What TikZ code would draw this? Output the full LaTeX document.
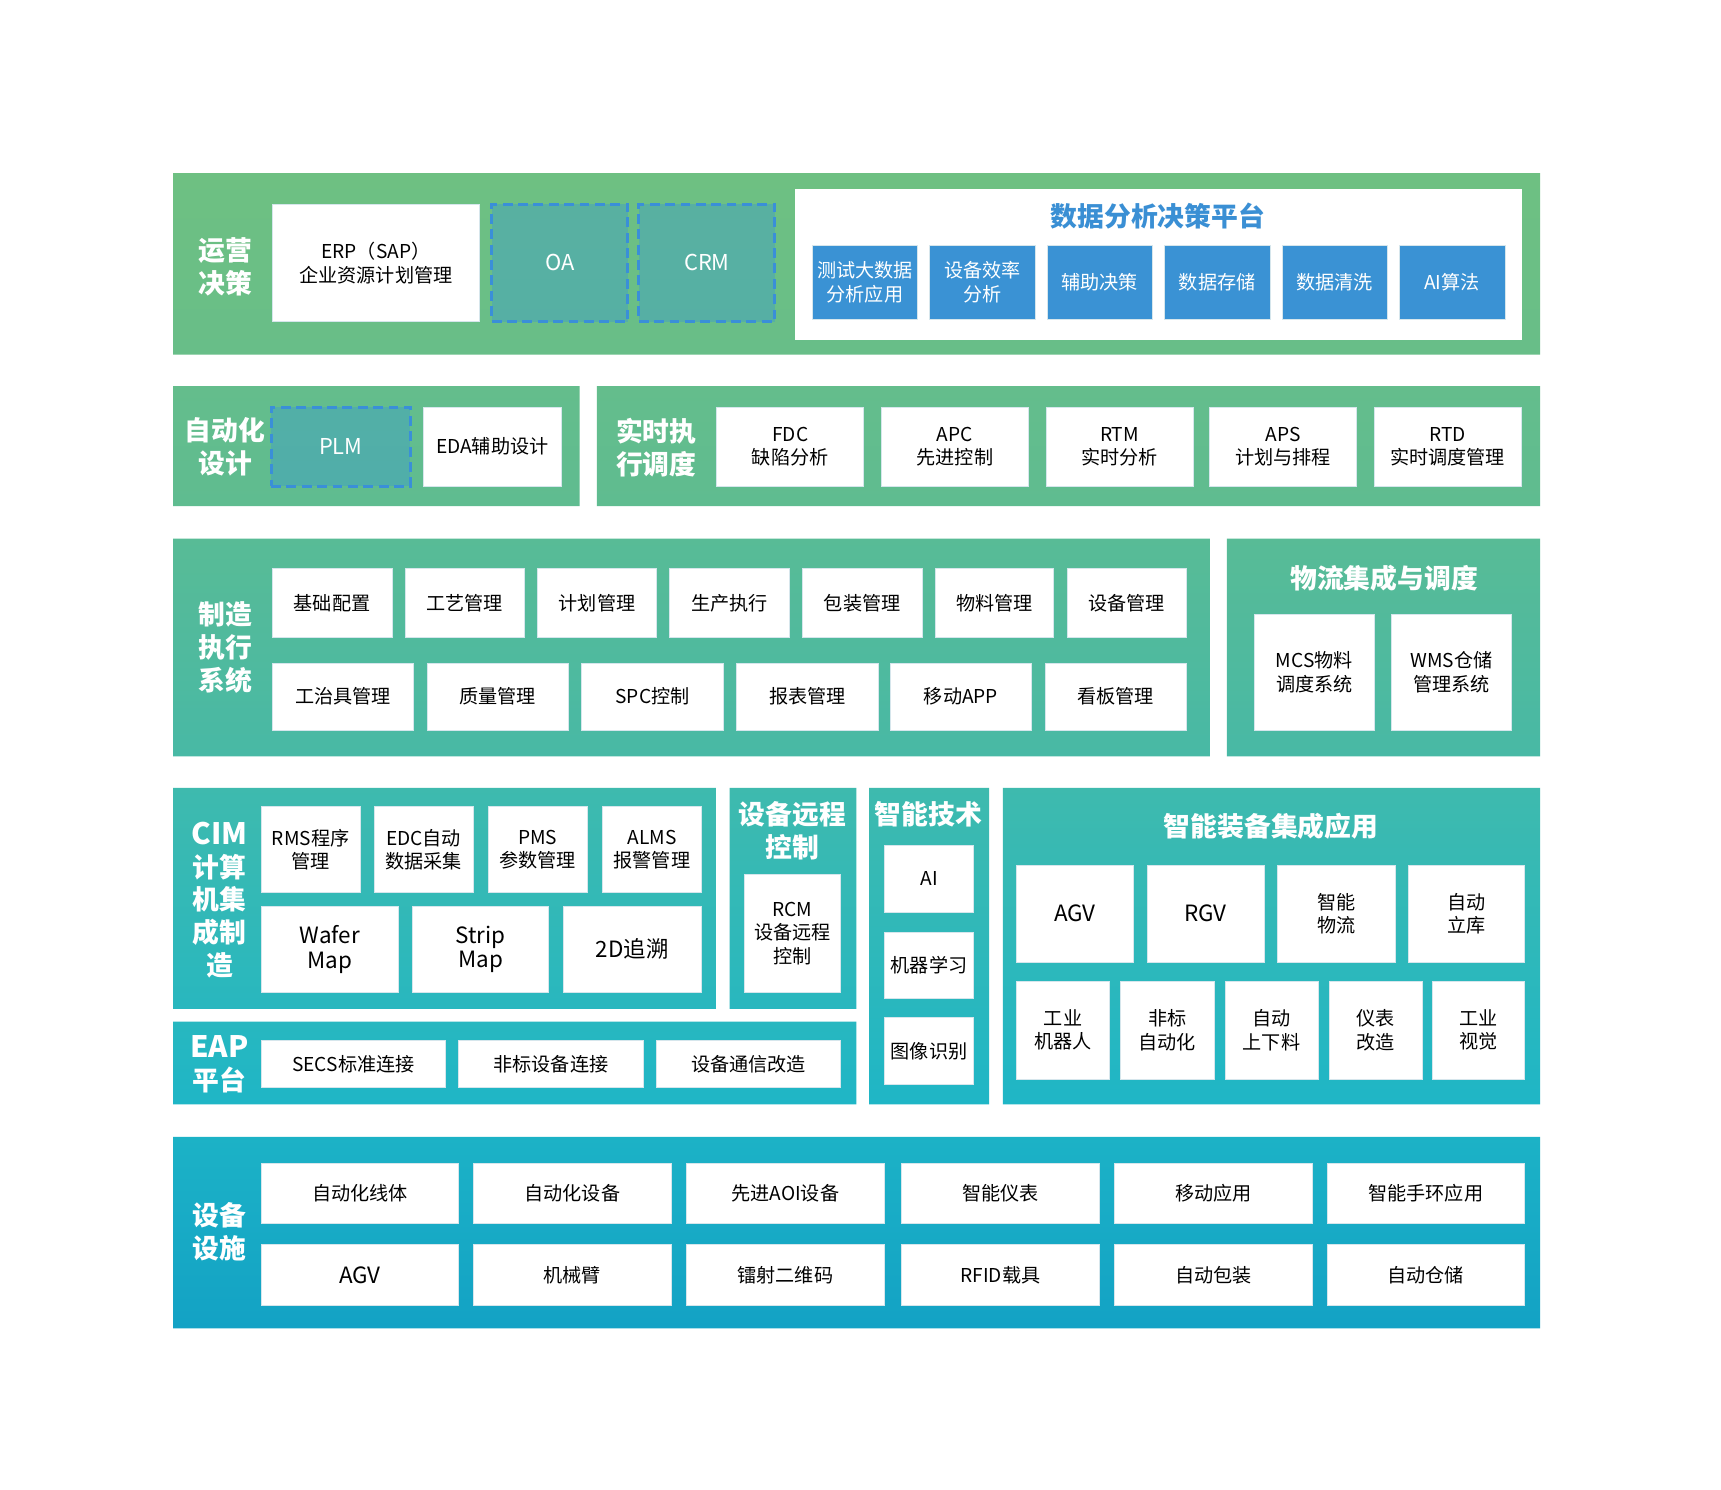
\documentclass[tikz,border=0pt]{standalone}
\usepackage{fontspec}
\setmainfont{Noto Sans CJK SC}
\definecolor{cA}{HTML}{13A2C5}
\definecolor{cB}{HTML}{1CB2C6}
\definecolor{cC}{HTML}{1FB6C6}
\definecolor{cD}{HTML}{3EBAAE}
\definecolor{cE}{HTML}{48B9A5}
\definecolor{cF}{HTML}{58BB96}
\definecolor{cG}{HTML}{5FBC90}
\definecolor{cH}{HTML}{64BD8C}
\definecolor{cI}{HTML}{68BE88}
\definecolor{cJ}{HTML}{6EC082}
\definecolor{blueb}{HTML}{3A92D4}
\definecolor{bluet}{HTML}{3A8FD4}
\definecolor{dashblue}{HTML}{3A8FD8}
\definecolor{dashfill}{HTML}{3A9AD0}
\definecolor{boxline}{HTML}{D6E6EC}
\pgfdeclareverticalshading{glob}{100bp}{color(0bp)=(cA); color(25bp)=(cA); color(33.3bp)=(cB); color(34.7bp)=(cC); color(48.4bp)=(cD); color(49.8bp)=(cE); color(59.2bp)=(cF); color(60.6bp)=(cG); color(65.8bp)=(cH); color(67.2bp)=(cI); color(75bp)=(cJ); color(100bp)=(cJ)}
\newcommand\bx[7]{\node[#6, minimum width={(#4-#2)*1bp}, minimum height={(#5-#3)*1bp}] (#1) at ({(#2+#4)/2},{(#3+#5)/2}) {#7};}
\begin{document}
\begin{tikzpicture}[x=1bp,y=-1bp,
  grp/.style={rectangle, inner sep=0pt, draw=none},
  pan/.style={rectangle, inner sep=0pt, fill=white},
  wb/.style={rectangle, fill=white, draw=boxline, line width=0.6pt, inner sep=0pt, align=center, text=black, font=\fontsize{17.5}{21.5}\selectfont},
  wbig/.style={wb, font=\fontsize{20.5}{22.5}\selectfont},
  bb/.style={rectangle, fill=blueb, draw=boxline, line width=0.4pt, inner sep=0pt, align=center, text=white, font=\fontsize{17.5}{21.5}\selectfont},
  db/.style={rectangle, inner sep=0pt, fill=dashfill, fill opacity=0.4, text opacity=1, draw=dashblue, draw opacity=1, line width=2.6bp, dash pattern=on 9bp off 5bp, text=white, font=\fontsize{20}{22}\selectfont},
  lab/.style={inner sep=0pt, align=center, text=white, font=\bfseries\fontsize{24.5}{30}\selectfont},
  ttl/.style={inner sep=0pt, align=center, text=white, font=\bfseries\fontsize{24.5}{30}\selectfont},
]
\useasboundingbox (0,0) rectangle (1568,1357);
\fill[white] (0,0) rectangle (1568,1357);
% groups
\bx{g1}{158}{158}{1403}{323}{grp}{}
\bx{g2a}{158}{352}{528}{461}{grp}{}
\bx{g2b}{544}{352}{1403}{461}{grp}{}
\bx{g3a}{158}{491}{1102}{689}{grp}{}
\bx{g3b}{1118}{491}{1403}{689}{grp}{}
\bx{g4a}{158}{718}{652}{919}{grp}{}
\bx{g4b}{158}{931}{780}{1006}{grp}{}
\bx{g4c}{665}{718}{780}{919}{grp}{}
\bx{g4d}{792}{718}{901}{1006}{grp}{}
\bx{g4e}{914}{718}{1403}{1006}{grp}{}
\bx{g5}{158}{1036}{1403}{1210}{grp}{}
\shade[shading=glob]
  (g1.north west) rectangle (g1.south east)
  (g2a.north west) rectangle (g2a.south east)
  (g2b.north west) rectangle (g2b.south east)
  (g3a.north west) rectangle (g3a.south east)
  (g3b.north west) rectangle (g3b.south east)
  (g4a.north west) rectangle (g4a.south east)
  (g4b.north west) rectangle (g4b.south east)
  (g4c.north west) rectangle (g4c.south east)
  (g4d.north west) rectangle (g4d.south east)
  (g4e.north west) rectangle (g4e.south east)
  (g5.north west) rectangle (g5.south east);
% ---- row 1
\node[lab] (l1) at (205,243) {运营\\决策};
\bx{erp}{248}{186}{437}{293}{wb}{ERP（SAP）\\企业资源计划管理}
\bx{oa}{448}{186}{572}{293}{db}{OA}
\bx{crm}{582}{186}{706}{293}{db}{CRM}
\bx{p1}{724}{172}{1387}{310}{pan}{}
\node[inner sep=0pt, text=bluet, font=\bfseries\fontsize{24.5}{30}\selectfont] (t1) at (1055,197) {数据分析决策平台};
\bx{d1}{740}{223}{836}{291}{bb}{测试大数据\\分析应用}
\bx{d2}{847}{223}{943}{291}{bb}{设备效率\\分析}
\bx{d3}{954}{223}{1050}{291}{bb}{辅助决策}
\bx{d4}{1061}{223}{1157}{291}{bb}{数据存储}
\bx{d5}{1168}{223}{1264}{291}{bb}{数据清洗}
\bx{d6}{1275}{223}{1371}{291}{bb}{AI算法}
% ---- row 2
\node[lab] (l2a) at (205,407) {自动化\\设计};
\bx{plm}{247}{371}{374}{443}{db}{PLM}
\bx{eda}{386}{371}{511}{443}{wb}{EDA辅助设计}
\node[lab] (l2b) at (598,408) {实时执\\行调度};
\bx{fdc}{653}{371}{787}{443}{wb}{FDC\\缺陷分析}
\bx{apc}{803}{371}{937}{443}{wb}{APC\\先进控制}
\bx{rtm}{953}{371}{1087}{443}{wb}{RTM\\实时分析}
\bx{aps}{1102}{371}{1236}{443}{wb}{APS\\计划与排程}
\bx{rtd}{1252}{371}{1386}{443}{wb}{RTD\\实时调度管理}
% ---- row 3
\node[lab] (l3a) at (205,590) {制造\\执行\\系统};
\bx{m1}{248}{518}{357}{581}{wb}{基础配置}
\bx{m2}{369}{518}{478}{581}{wb}{工艺管理}
\bx{m3}{490}{518}{598}{581}{wb}{计划管理}
\bx{m4}{610}{518}{719}{581}{wb}{生产执行}
\bx{m5}{731}{518}{840}{581}{wb}{包装管理}
\bx{m6}{852}{518}{960}{581}{wb}{物料管理}
\bx{m7}{972}{518}{1081}{581}{wb}{设备管理}
\bx{n1}{248}{604}{377}{665}{wb}{工治具管理}
\bx{n2}{389}{604}{518}{665}{wb}{质量管理}
\bx{n3}{530}{604}{659}{665}{wb}{SPC控制}
\bx{n4}{671}{604}{800}{665}{wb}{报表管理}
\bx{n5}{811}{604}{940}{665}{wb}{移动APP}
\bx{n6}{952}{604}{1081}{665}{wb}{看板管理}
\node[ttl] (t3b) at (1261,527) {物流集成与调度};
\bx{mcs}{1143}{560}{1252}{665}{wb}{MCS物料\\调度系统}
\bx{wms}{1268}{560}{1377}{665}{wb}{WMS仓储\\管理系统}
% ---- row 4
\node[lab] (l4a) at (200,820) {{\fontsize{27}{30}\selectfont CIM}\\计算\\机集\\成制\\造};
\bx{rms}{238}{735}{328}{813}{wb}{RMS程序\\管理}
\bx{edc}{341}{735}{431}{813}{wb}{EDC自动\\数据采集}
\bx{pms}{445}{735}{535}{813}{wb}{PMS\\参数管理}
\bx{alms}{549}{735}{639}{813}{wb}{ALMS\\报警管理}
\bx{wafer}{238}{826}{363}{904}{wbig}{Wafer\\Map}
\bx{strip}{376}{826}{500}{904}{wbig}{Strip\\Map}
\bx{trace}{513}{826}{639}{904}{wbig}{2D追溯}
\node[lab] (l4b) at (200,970) {{\fontsize{27}{30}\selectfont EAP}\\平台};
\bx{secs}{238}{948}{406}{991}{wb}{SECS标准连接}
\bx{fbs}{418}{948}{586}{991}{wb}{非标设备连接}
\bx{txg}{598}{948}{766}{991}{wb}{设备通信改造}
\node[ttl] (t4c) at (722,757) {设备远程\\控制};
\bx{rcm}{678}{797}{766}{904}{wb}{RCM\\设备远程\\控制}
\node[ttl] (t4d) at (846,742) {智能技术};
\bx{ai}{806}{770}{887}{831}{wb}{AI}
\bx{ml}{806}{849}{887}{910}{wb}{机器学习}
\bx{img}{806}{927}{887}{988}{wb}{图像识别}
\node[ttl] (t4e) at (1158,753) {智能装备集成应用};
\bx{agv1}{926}{788}{1033}{877}{wbig}{AGV}
\bx{rgv}{1045}{788}{1152}{877}{wbig}{RGV}
\bx{znwl}{1164}{788}{1271}{877}{wb}{智能\\物流}
\bx{zdlk}{1283}{788}{1389}{877}{wb}{自动\\立库}
\bx{gyjqr}{926}{894}{1011}{983}{wb}{工业\\机器人}
\bx{fbzdh}{1021}{894}{1106}{983}{wb}{非标\\自动化}
\bx{zdsxl}{1116}{894}{1201}{983}{wb}{自动\\上下料}
\bx{ybgz}{1211}{894}{1296}{983}{wb}{仪表\\改造}
\bx{gysj}{1305}{894}{1389}{983}{wb}{工业\\视觉}
% ---- row 5
\node[lab] (l5) at (200,1122) {设备\\设施};
\bx{e1}{238}{1060}{418}{1115}{wb}{自动化线体}
\bx{e2}{431}{1060}{612}{1115}{wb}{自动化设备}
\bx{e3}{625}{1060}{806}{1115}{wb}{先进AOI设备}
\bx{e4}{821}{1060}{1002}{1115}{wb}{智能仪表}
\bx{e5}{1015}{1060}{1196}{1115}{wb}{移动应用}
\bx{e6}{1209}{1060}{1389}{1115}{wb}{智能手环应用}
\bx{f1}{238}{1134}{418}{1189}{wbig}{AGV}
\bx{f2}{431}{1134}{612}{1189}{wb}{机械臂}
\bx{f3}{625}{1134}{806}{1189}{wb}{镭射二维码}
\bx{f4}{821}{1134}{1002}{1189}{wb}{RFID载具}
\bx{f5}{1015}{1134}{1196}{1189}{wb}{自动包装}
\bx{f6}{1209}{1134}{1389}{1189}{wb}{自动仓储}
\end{tikzpicture}
\end{document}
